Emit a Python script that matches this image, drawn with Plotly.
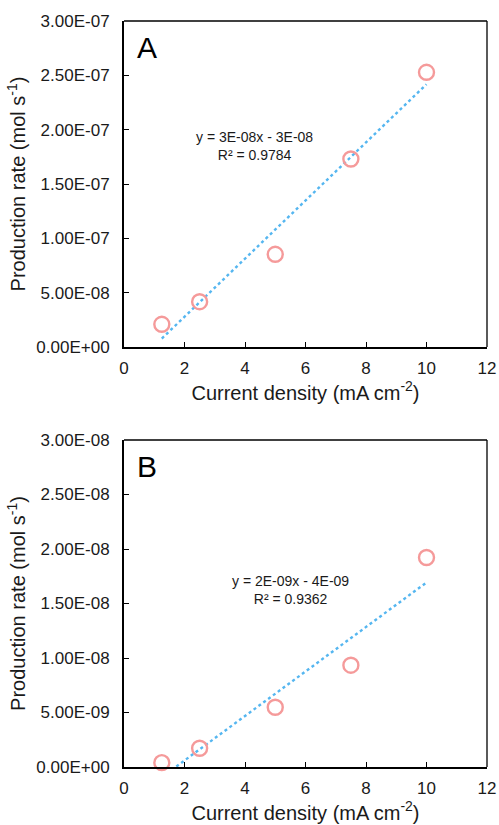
import numpy as np
import plotly.graph_objects as go

current_density = [1.25, 2.5, 5.0, 7.5, 10.0]
rate_A = [2.09e-8, 4.17e-8, 8.53e-8, 1.73e-7, 2.528e-7]
rate_B = [4.0e-10, 1.72e-9, 5.48e-9, 9.34e-9, 1.922e-8]

x_ticks = [0, 2, 4, 6, 8, 10, 12]
yA_ticks = [0, 5e-8, 1e-7, 1.5e-7, 2e-7, 2.5e-7, 3e-7]
yA_labels = ["0.00E+00", "5.00E-08", "1.00E-07", "1.50E-07", "2.00E-07", "2.50E-07", "3.00E-07"]
yB_ticks = [0, 5e-9, 1e-8, 1.5e-8, 2e-8, 2.5e-8, 3e-8]
yB_labels = ["0.00E+00", "5.00E-09", "1.00E-08", "1.50E-08", "2.00E-08", "2.50E-08", "3.00E-08"]

eq_A = "y = 3E-08x - 3E-08<br>R² = 0.9784"
eq_B = "y = 2E-09x - 4E-09<br>R² = 0.9362"

FONT = "Liberation Sans, Arial, sans-serif"
MARK = "#F59A9A"
TREND = "#55B6F0"
TXT = "#1a1a1a"

fig = go.Figure()

def add_panel(ys, xa, ya):
    xs = np.array(current_density)
    yv = np.array(ys)
    k, b = np.polyfit(xs, yv, 1)
    fx = [xs.min(), xs.max()]
    fy = [k * v + b for v in fx]
    fig.add_trace(go.Scatter(x=fx, y=fy, mode="lines", xaxis=xa, yaxis=ya,
                             line=dict(color=TREND, width=2.4, dash="dot"),
                             showlegend=False, hoverinfo="skip"))
    fig.add_trace(go.Scatter(x=current_density, y=ys, mode="markers", xaxis=xa, yaxis=ya,
                             marker=dict(symbol="circle-open", size=15, color=MARK,
                                         line=dict(color=MARK, width=2.4)),
                             showlegend=False, cliponaxis=False))

add_panel(rate_A, "x", "y")
add_panel(rate_B, "x2", "y2")

W, H = 499, 825
L, R, T, B = 124, 12, 21, 58
ph = H - T - B
domA = [(767 - 347) / ph, 1.0]
domB = [0.0, (767 - 440) / ph]

tickfont = dict(family=FONT, size=17, color=TXT)
titlefont = dict(family=FONT, size=20, color=TXT)
ax_common = dict(showgrid=False, zeroline=False, showline=True, linecolor="black",
                 linewidth=2, ticks="inside", ticklen=5, tickwidth=1.3, tickcolor="black",
                 tickfont=tickfont, automargin=False)

title_x = "Current density (mA cm<sup>-2</sup>)"
title_y = "Production rate (mol s<sup>-1</sup>)"

xa = dict(range=[0, 12], tickvals=x_ticks, ticklabelstandoff=5,
          title=dict(text=title_x, font=titlefont, standoff=3), **ax_common)
fig.update_layout(
    width=W, height=H, margin=dict(l=L, r=R, t=T, b=B, autoexpand=False),
    paper_bgcolor="white", plot_bgcolor="white",
    xaxis=dict(domain=[0, 1], anchor="y", **xa),
    xaxis2=dict(domain=[0, 1], anchor="y2", **xa),
    yaxis=dict(domain=domA, anchor="x", range=[0, 3e-7], tickvals=yA_ticks, ticktext=yA_labels,
               ticklabelstandoff=9, title=dict(text=title_y, font=titlefont, standoff=5),
               **ax_common),
    yaxis2=dict(domain=domB, anchor="x2", range=[0, 3e-8], tickvals=yB_ticks, ticktext=yB_labels,
                ticklabelstandoff=9, title=dict(text=title_y, font=titlefont, standoff=5),
                **ax_common),
)

for xr, yr in (("x", "y"), ("x2", "y2")):
    fig.add_shape(type="line", xref=xr + " domain", yref=yr + " domain", x0=0, x1=1, y0=1, y1=1,
                  line=dict(color="black", width=1.3))
    fig.add_shape(type="line", xref=xr + " domain", yref=yr + " domain", x0=1, x1=1, y0=0, y1=1,
                  line=dict(color="black", width=1.3))

for lab, xr, yr in (("A", "x", "y"), ("B", "x2", "y2")):
    fig.add_annotation(text=lab, xref=xr + " domain", yref=yr + " domain", x=0.03, y=0.975,
                       xanchor="left", yanchor="top", showarrow=False,
                       font=dict(family=FONT, size=30, color="black"))

fig.add_annotation(text=eq_A, xref="paper", yref="paper", x=(254 - L) / (W - L - R),
                   y=1 - (146 - T) / ph, xanchor="center", yanchor="middle",
                   showarrow=False, align="center", font=dict(family=FONT, size=14, color=TXT))
fig.add_annotation(text=eq_B, xref="paper", yref="paper", x=(290 - L) / (W - L - R),
                   y=1 - (590 - T) / ph, xanchor="center", yanchor="middle",
                   showarrow=False, align="center", font=dict(family=FONT, size=14, color=TXT))

fig.write_html("out.html")
